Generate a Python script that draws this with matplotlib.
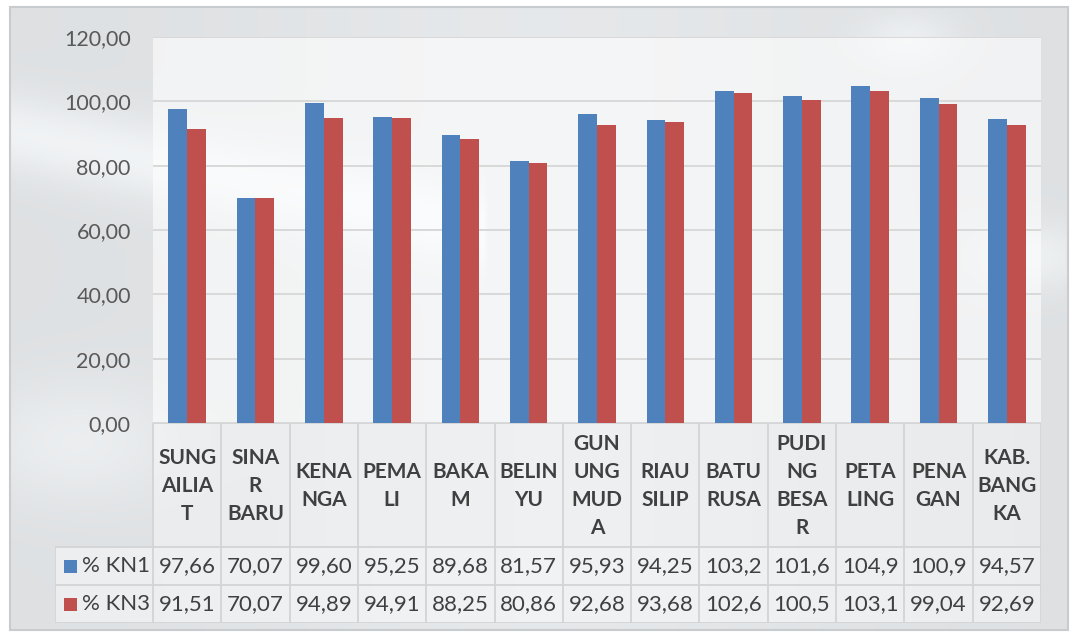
import numpy as np
import matplotlib
matplotlib.use('Agg')
import matplotlib.pyplot as plt
from matplotlib.patches import Rectangle

plt.rcParams['font.family'] = ['Lato', 'DejaVu Sans']

# data
kecamatan = ['SUNG\nAILIA\nT', 'SINA\nR\nBARU', 'KENA\nNGA', 'PEMA\nLI', 'BAKA\nM',
             'BELIN\nYU', 'GUN\nUNG\nMUD\nA', 'RIAU\nSILIP', 'BATU\nRUSA',
             'PUDI\nNG\nBESA\nR', 'PETA\nLING', 'PENA\nGAN', 'KAB.\nBANG\nKA']
kn1 = [97.66, 70.07, 99.60, 95.25, 89.68, 81.57, 95.93, 94.25, 103.2, 101.6, 104.9, 100.9, 94.57]
kn3 = [91.51, 70.07, 94.89, 94.91, 88.25, 80.86, 92.68, 93.68, 102.6, 100.5, 103.1, 99.04, 92.69]
series_names = ['% KN1', '% KN3']
yticks = [0, 20, 40, 60, 80, 100, 120]

BLUE = '#4f81bd'
RED = '#c0504d'
TXT = '#404040'
LINE = '#d2d4d6'

W, H = 1073, 632


def fmt(v):
    # excel squeezes the 3 digit values to one decimal
    s = '%.1f' % v if v >= 100 else '%.2f' % v
    return s.replace('.', ',')


fig = plt.figure(figsize=(W / 100, H / 100), dpi=100)
fig.patch.set_facecolor('white')

# blurred photo background
bg = fig.add_axes([10 / W, 1 - 630 / H, 1058 / W, 623 / H])
yy, xx = np.mgrid[0:1:200j, 0:1:340j]
lum = 0.88 + 0.03 * np.exp(-((xx - 0.5) ** 2) / 0.08)
lum += 0.07 * np.exp(-((yy - 0.2 - 0.35 * xx) ** 2) / 0.004) * (xx < 0.45)
lum += 0.05 * np.exp(-((xx - 0.06) ** 2 + (yy - 0.7) ** 2) / 0.01)
lum += 0.06 * np.exp(-((xx - 0.97) ** 2 + (yy - 0.4) ** 2) / 0.003)
lum += 0.05 * np.exp(-((xx - 0.85) ** 2 + (yy - 0.05) ** 2) / 0.002)
lum = np.clip(lum, 0, 0.97)
img = np.dstack([lum - 0.01, lum, lum + 0.008])
bg.imshow(np.clip(img, 0, 1), aspect='auto', extent=[0, 1, 0, 1], interpolation='bicubic')
bg.set_axis_off()
bg.add_patch(Rectangle((0, 0), 1, 1, transform=bg.transAxes, fill=False,
                       edgecolor='#c9cccf', lw=1.5, clip_on=False))

n = len(kecamatan)
x = np.arange(n)
bw = 0.275

ax = fig.add_axes([153 / W, 1 - 423 / H, 888 / W, (423 - 37) / H])
ax.set_facecolor((1, 1, 1, 0.6))
ax.bar(x - bw / 2, kn1, bw, color=BLUE, zorder=3)
ax.bar(x + bw / 2, kn3, bw, color=RED, zorder=3)
ax.set_xlim(-0.5, n - 0.5)
ax.set_ylim(0, 120)
ax.set_yticks(yticks)
ax.set_yticklabels(['%d,00' % t for t in yticks], fontsize=15.5, color='#595959')
ax.tick_params(axis='y', length=0, pad=16)
ax.set_xticks([])
ax.grid(axis='y', color='#d9d9d9', lw=1.4, zorder=0)
for s in ax.spines.values():
    s.set_visible(False)

# data table below the plot
lead = 98 / (888 / n)
hdr, row = 124, 38
tax = fig.add_axes([55 / W, 1 - 623 / H, 986 / W, 200 / H])
tax.set_xlim(-0.5 - lead, n - 0.5)
tax.set_ylim(hdr + 2 * row, 0)
tax.set_axis_off()
tax.add_patch(Rectangle((-0.5, 0), n, hdr, facecolor=(1, 1, 1, 0.35), edgecolor='none'))
tax.add_patch(Rectangle((-0.5 - lead, hdr), n + lead, 2 * row, facecolor=(1, 1, 1, 0.45),
                        edgecolor='none'))
for i in range(n + 1):
    tax.plot([i - 0.5, i - 0.5], [0, hdr + 2 * row], color=LINE, lw=1.3)
tax.plot([-0.5 - lead, -0.5 - lead], [hdr, hdr + 2 * row], color=LINE, lw=1.3)
tax.plot([-0.5, n - 0.5], [0, 0], color=LINE, lw=1.3)
for k in range(3):
    tax.plot([-0.5 - lead, n - 0.5], [hdr + k * row, hdr + k * row], color=LINE, lw=1.3)

for i, lab in enumerate(kecamatan):
    tax.text(i, hdr / 2 + 1, lab, ha='center', va='center', multialignment='center',
             fontsize=15, fontweight='bold', color=TXT, linespacing=1.5)

for r, (name, vals, col) in enumerate(zip(series_names, [kn1, kn3], [BLUE, RED])):
    yc = hdr + row * (r + 0.5)
    for i, v in enumerate(vals):
        tax.text(i, yc, fmt(v), ha='center', va='center', fontsize=16, color=TXT)
    tax.add_patch(Rectangle((-0.5 - lead + 0.13, yc - 6.5), 0.19, 13, facecolor=col,
                            edgecolor='none'))
    tax.text(-0.5 - lead + 0.4, yc, name, ha='left', va='center', fontsize=16, color=TXT)

fig.savefig('out.png', dpi=100)
